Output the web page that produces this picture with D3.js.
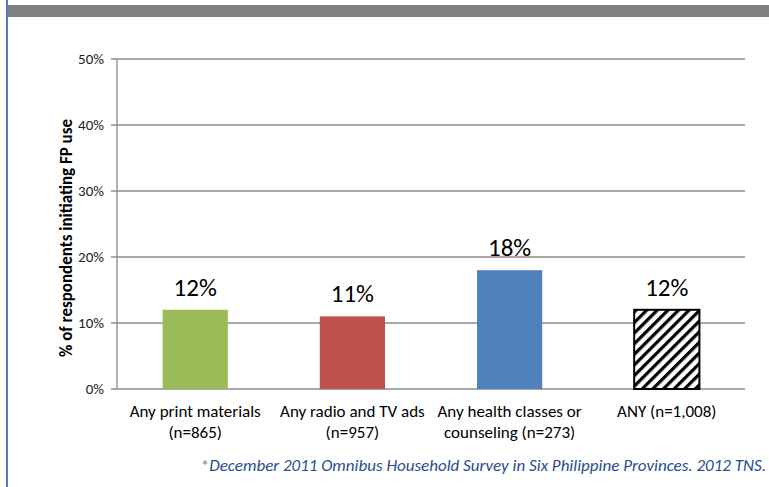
<!DOCTYPE html>
<html>
<head>
<meta charset="utf-8">
<script src="https://cdn.jsdelivr.net/npm/d3@7"></script>
<style>
  body { margin: 0; background: #fff; }
  svg { display: block; font-family: Carlito, "Open Sans", sans-serif; }
</style>
</head>
<body>
<svg width="769" height="487"></svg>
<script>
var categories = ["Any print materials\n(n=865)", "Any radio and TV ads\n(n=957)", "Any health classes or\ncounseling (n=273)", "ANY (n=1,008)"];
var values = [12, 11, 18, 12];
var colors = ["#9bbb59", "#c0504d", "#4f81bd", "hatch"];
var ticks = [0, 10, 20, 30, 40, 50];

var svg = d3.select("svg");
var plotLeft = 117, plotRight = 745, plotTop = 59, plotBottom = 389;

// page decoration
svg.append("rect").attr("x", 6).attr("y", 0).attr("width", 2).attr("height", 487).attr("fill", "#4f81bd");
svg.append("rect").attr("x", 8).attr("y", 5).attr("width", 761).attr("height", 12).attr("fill", "#7f7f7f");

var defs = svg.append("defs");
var pat = defs.append("pattern")
    .attr("id", "hatch")
    .attr("patternUnits", "userSpaceOnUse")
    .attr("width", 7.5).attr("height", 7.5)
    .attr("patternTransform", "rotate(45)");
pat.append("rect").attr("width", 7.5).attr("height", 7.5).attr("fill", "#fff");
pat.append("rect").attr("x", 0).attr("width", 3.2).attr("height", 7.5).attr("fill", "#000");

var x = d3.scaleBand()
    .domain(d3.range(categories.length))
    .range([plotLeft, plotRight])
    .paddingInner(0.585)
    .paddingOuter(0.29);

var y = d3.scaleLinear()
    .domain([0, 50])
    .range([plotBottom, plotTop]);

// gridlines
svg.append("g").selectAll("line")
    .data(ticks)
    .enter()
    .append("line")
    .attr("x1", plotLeft - 6)
    .attr("x2", plotRight)
    .attr("y1", function(d) { return y(d); })
    .attr("y2", function(d) { return y(d); })
    .attr("stroke", "#8c8c8c")
    .attr("stroke-width", 1.3);

svg.append("line")
    .attr("x1", plotLeft).attr("x2", plotLeft)
    .attr("y1", plotTop).attr("y2", plotBottom)
    .attr("stroke", "#8c8c8c").attr("stroke-width", 1.3);

svg.append("g").selectAll("text")
    .data(ticks)
    .enter()
    .append("text")
    .attr("x", plotLeft - 13)
    .attr("y", function(d) { return y(d); })
    .attr("dy", "0.35em")
    .attr("text-anchor", "end")
    .attr("font-size", 15)
    .attr("fill", "#222")
    .text(function(d) { return d + "%"; });

// bars
svg.append("g").selectAll("rect")
    .data(values)
    .enter()
    .append("rect")
    .attr("x", function(d, i) { return x(i); })
    .attr("y", function(d) { return y(d); })
    .attr("width", x.bandwidth())
    .attr("height", function(d) { return plotBottom - y(d); })
    .attr("fill", function(d, i) { return colors[i] == "hatch" ? "url(#hatch)" : colors[i]; })
    .attr("stroke", function(d, i) { return colors[i] == "hatch" ? "#000" : "none"; })
    .attr("stroke-width", 2);

// value labels
svg.append("g").selectAll("text")
    .data(values)
    .enter()
    .append("text")
    .attr("x", function(d, i) { return x(i) + x.bandwidth() / 2; })
    .attr("y", function(d) { return y(d) - 14; })
    .attr("text-anchor", "middle")
    .attr("font-size", 25)
    .attr("fill", "#000")
    .text(function(d) { return d + "%"; });

// category labels
var cat = svg.append("g").selectAll("text")
    .data(categories)
    .enter()
    .append("text")
    .attr("text-anchor", "middle")
    .attr("font-size", 17)
    .attr("fill", "#000");
cat.selectAll("tspan")
    .data(function(d, i) { return d.split("\n").map(function(s) { return { s: s, i: i }; }); })
    .enter()
    .append("tspan")
    .attr("x", function(d) { return x(d.i) + x.bandwidth() / 2; })
    .attr("y", function(d, j) { return 417 + j * 21; })
    .text(function(d) { return d.s; });

// axis title
svg.append("text")
    .attr("transform", "translate(72," + ((plotTop + plotBottom) / 2 + 14) + ") rotate(-90)")
    .attr("text-anchor", "middle")
    .attr("font-size", 17)
    .attr("font-weight", "bold")
    .attr("fill", "#000")
    .text("% of respondents initiating FP use");

// footnote
var foot = svg.append("text")
    .attr("x", 766)
    .attr("y", 471)
    .attr("text-anchor", "end")
    .attr("font-size", 17)
    .attr("font-style", "italic")
    .attr("fill", "#1f4e91");
foot.append("tspan").attr("fill", "#7f7f7f").attr("font-style", "normal").text("*");
foot.append("tspan").text("December 2011 Omnibus Household Survey in Six Philippine Provinces. 2012 TNS.");
</script>
</body>
</html>
